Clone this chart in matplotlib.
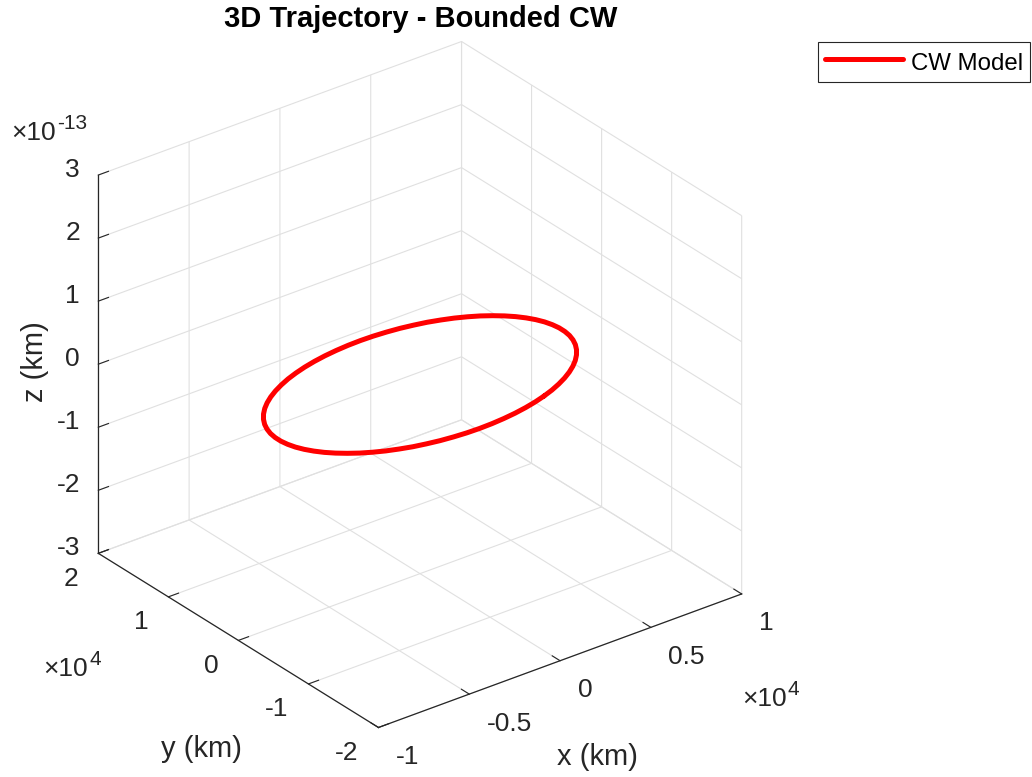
import numpy as np
import matplotlib
matplotlib.use('Agg')
import matplotlib.pyplot as plt
from matplotlib.ticker import NullFormatter

plt.rcParams['font.family'] = ['Liberation Sans', 'DejaVu Sans']

# ---- data (km) ----
x_km = [6830, 6804, 6726, 6597, 6418, 6190, 5915, 5595, 5232, 4830, 4390, 3918,
        3415, 2886, 2336, 1768, 1186, 596, 0, -596, -1186, -1768, -2336, -2886,
        -3415, -3918, -4390, -4830, -5232, -5595, -5915, -6190, -6418, -6597, -6726, -6804,
        -6830, -6804, -6726, -6597, -6418, -6190, -5915, -5595, -5232, -4830, -4390, -3918,
        -3415, -2886, -2336, -1768, -1186, -596, 0, 596, 1186, 1768, 2336, 2886,
        3415, 3918, 4390, 4830, 5232, 5595, 5915, 6190, 6418, 6597, 6726, 6804]
y_km = [0, 1191, 2371, 3535, 4672, 5773, 6830, 7835, 8781, 9659, 10464, 11190,
        11830, 12380, 12836, 13194, 13452, 13608, 13660, 13608, 13452, 13194, 12836, 12380,
        11830, 11190, 10464, 9659, 8781, 7835, 6830, 5773, 4672, 3535, 2371, 1191,
        0, -1191, -2371, -3535, -4672, -5773, -6830, -7835, -8781, -9659, -10464, -11190,
        -11830, -12380, -12836, -13194, -13452, -13608, -13660, -13608, -13452, -13194, -12836, -12380,
        -11830, -11190, -10464, -9659, -8781, -7835, -6830, -5773, -4672, -3535, -2371, -1191]
z_e13 = [-0.906, -1.079, -1.243, -1.398, -1.542, -1.675, -1.795, -1.901, -1.992, -2.069, -2.129, -2.175,
         -2.202, -2.214, -2.208, -2.186, -2.146, -2.091, -2.020, -1.933, -1.832, -1.717, -1.588, -1.448,
         -1.296, -1.135, -0.965, -0.788, -0.604, -0.417, -0.225, -0.033, 0.160, 0.352, 0.541, 0.727,
         0.906, 1.079, 1.243, 1.398, 1.542, 1.675, 1.795, 1.901, 1.992, 2.069, 2.129, 2.175,
         2.202, 2.214, 2.208, 2.186, 2.146, 2.091, 2.020, 1.933, 1.832, 1.717, 1.588, 1.448,
         1.296, 1.135, 0.965, 0.788, 0.604, 0.417, 0.225, 0.033, -0.160, -0.352, -0.541, -0.727]

x_ticks = [-1e4, -0.5e4, 0, 0.5e4, 1e4]
x_tick_labels = ['-1', '-0.5', '0', '0.5', '1']
y_ticks = [-2e4, -1e4, 0, 1e4, 2e4]
y_tick_labels = ['-2', '-1', '0', '1', '2']
z_ticks = [-3e-13, -2e-13, -1e-13, 0, 1e-13, 2e-13, 3e-13]
z_tick_labels = ['-3', '-2', '-1', '0', '1', '2', '3']

W, H = 1032, 777
AXC = '#262626'
GRIDC = '#e0e0e0'
TICK_FS = 19

fig = plt.figure(figsize=(W / 100, H / 100), dpi=100)
size0 = 600
ax = fig.add_axes([100 / W, 80 / H, size0 / W, size0 / H], projection='3d', proj_type='ortho')
ax.view_init(elev=28.56, azim=-127.56)
ax.set_box_aspect((1.0, 1.003, 0.940))

xs = np.append(x_km, x_km[0])
ys = np.append(y_km, y_km[0])
zs = np.append(z_e13, z_e13[0]) * 1e-13
line, = ax.plot(xs, ys, zs, color='red', lw=3.6, solid_capstyle='round',
                solid_joinstyle='round', label='CW Model')

ax.set_xlim(-1e4, 1e4)
ax.set_ylim(-2e4, 2e4)
ax.set_zlim(-3e-13, 3e-13)
ax.set_xticks(x_ticks)
ax.set_yticks(y_ticks)
ax.set_zticks(z_ticks)
for axis in (ax.xaxis, ax.yaxis, ax.zaxis):
    axis.set_major_formatter(NullFormatter())

for a in ('x', 'y', 'z'):
    ax.tick_params(axis=a, colors=AXC, width=0.9)
for axis in (ax.xaxis, ax.yaxis, ax.zaxis):
    axis.set_pane_color((1, 1, 1, 0))
    axis.pane.set_edgecolor(GRIDC)
    axis.pane.set_linewidth(0.8)
    axis.line.set_color(AXC)
    axis.line.set_linewidth(0.9)
    axis._axinfo['grid'].update(color=GRIDC, linewidth=0.8)
    axis._axinfo['tick']['inward_factor'] = 0.0
    axis._axinfo['tick']['outward_factor'] = 0.35

# ---- place the box where the reference has it ----
def to_disp(p):
    M = ax.get_proj()
    v = M @ np.array([p[0], p[1], p[2], 1.0])
    return np.array(ax.transData.transform((v[0] / v[3], v[1] / v[3])))

lo = (-1e4, -2e4, -3e-13)
hi = (1e4, 2e4, 3e-13)
t_lo = np.array([378.5, H - 727.5])
t_hi = np.array([461.5, H - 41.5])
for _ in range(2):
    fig.canvas.draw()
    bb = ax.get_position().transformed(fig.transFigure)
    c_old = np.array([(bb.x0 + bb.x1) / 2, (bb.y0 + bb.y1) / 2])
    p_lo, p_hi = to_disp(lo), to_disp(hi)
    k = np.linalg.norm(t_hi - t_lo) / np.linalg.norm(p_hi - p_lo)
    c_box = (p_lo + p_hi) / 2
    t_c = (t_lo + t_hi) / 2
    c_new = t_c - k * (c_box - c_old)
    s = bb.width * k
    ax.set_position([(c_new[0] - s / 2) / W, (c_new[1] - s / 2) / H, s / W, s / H])
fig.canvas.draw()

# ---- tick labels (MATLAB-like placement next to each tick) ----
def put_label(p, txt, dx, dy, ha):
    d = to_disp(p)
    fig.text((d[0] + dx) / W, (d[1] + dy) / H, txt, ha=ha, va='center',
             fontsize=TICK_FS, color=AXC)

for v, t in zip(x_ticks, x_tick_labels):
    put_label((v, -2e4, -3e-13), t, 17.5, -29.5, 'left')
for v, t in zip(y_ticks, y_tick_labels):
    put_label((-1e4, v, -3e-13), t, -20.2, -25.5, 'right')
for v, t in zip(z_ticks, z_tick_labels):
    put_label((-1e4, 2e4, v), t, -18.3, 5.0, 'right')

# ---- texts ----
fig.text(421 / W, 1 - 19 / H, '3D Trajectory - Bounded CW', ha='center', va='center',
         fontsize=21, fontweight='bold', color='black')
fig.text(597 / W, 1 - 757 / H, 'x (km)', ha='center', va='center', fontsize=21, color=AXC)
fig.text(201 / W, 1 - 749 / H, 'y (km)', ha='center', va='center', fontsize=21, color=AXC)
fig.text(35 / W, 1 - 362 / H, 'z (km)', ha='center', va='center', fontsize=21, color=AXC, rotation=90)

def exp_label(x, y, sup):
    fig.text(x / W, 1 - y / H, '×10', ha='left', va='baseline', fontsize=TICK_FS, color=AXC)
    fig.text((x + 46) / W, 1 - (y - 11) / H, sup, ha='left', va='baseline', fontsize=15, color=AXC)

exp_label(11, 140, '-13')
exp_label(43, 676, '4')
exp_label(742, 706, '4')

leg = fig.legend(handles=[line], labels=['CW Model'], loc='upper right',
                 bbox_to_anchor=(1030 / W, 1 - 41.5 / H), bbox_transform=fig.transFigure,
                 frameon=True, fancybox=False, framealpha=1, edgecolor=AXC,
                 borderaxespad=0, fontsize=17.3, handlelength=3.25, handletextpad=0.3,
                 borderpad=0.3, handleheight=1.3)
leg.get_frame().set_linewidth(0.8)

fig.savefig('out.png', dpi=100)
